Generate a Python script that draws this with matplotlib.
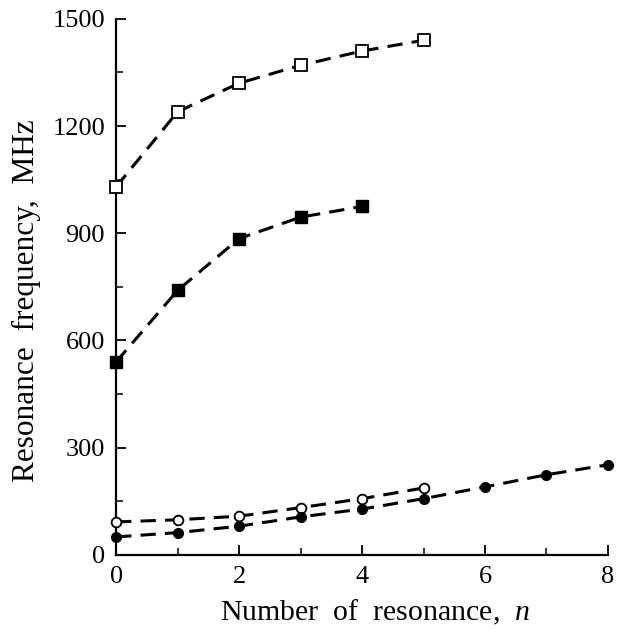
import matplotlib
matplotlib.use("Agg")
import matplotlib.pyplot as plt
from matplotlib.ticker import MultipleLocator

plt.rcParams['font.family'] = ['Liberation Serif', 'DejaVu Serif']
plt.rcParams['mathtext.fontset'] = 'custom'
plt.rcParams['mathtext.rm'] = 'Liberation Serif'
plt.rcParams['mathtext.it'] = 'Liberation Serif:italic'

# Resonance frequencies (MHz) versus resonance number n
n_open_sq = [0, 1, 2, 3, 4, 5]
f_open_sq = [1030, 1240, 1320, 1370, 1410, 1440]

n_fill_sq = [0, 1, 2, 3, 4]
f_fill_sq = [540, 740, 885, 945, 975]

n_open_ci = [0, 1, 2, 3, 4, 5]
f_open_ci = [92, 98, 108, 132, 157, 187]

n_fill_ci = [0, 1, 2, 3, 4, 5, 6, 7, 8]
f_fill_ci = [50, 62, 80, 106, 128, 157, 190, 224, 252]

x_ticks = [0, 2, 4, 6, 8]
y_ticks = [0, 300, 600, 900, 1200, 1500]

fig = plt.figure(figsize=(6.21, 6.29), dpi=100)
ax = fig.add_axes([0.187, 0.118, 0.792, 0.852])

dash = (5, 3)
lw = 2.2
ax.plot(n_open_sq, f_open_sq, color='black', lw=lw, dashes=dash, marker='s',
        ms=8.5, mfc='white', mec='black', mew=1.3, clip_on=False, zorder=3)
ax.plot(n_fill_sq, f_fill_sq, color='black', lw=lw, dashes=dash, marker='s',
        ms=8, mfc='black', mec='black', clip_on=False, zorder=3)
ax.plot(n_open_ci, f_open_ci, color='black', lw=lw, dashes=dash, marker='o',
        ms=7, mfc='white', mec='black', mew=1.3, clip_on=False, zorder=3)
ax.plot(n_fill_ci, f_fill_ci, color='black', lw=lw, dashes=dash, marker='o',
        ms=7, mfc='black', mec='black', clip_on=False, zorder=3)

ax.set_xlim(0, 8)
ax.set_ylim(0, 1500)
ax.set_xticks(x_ticks)
ax.set_yticks(y_ticks)
ax.xaxis.set_minor_locator(MultipleLocator(1))
ax.yaxis.set_minor_locator(MultipleLocator(150))

for s in ['top', 'right']:
    ax.spines[s].set_visible(False)
for s in ['left', 'bottom']:
    ax.spines[s].set_linewidth(1.6)

ax.tick_params(which='major', direction='in', length=7, width=1.3,
               labelsize=19, pad=8)
ax.tick_params(which='minor', direction='in', length=5, width=1.1)

ax.set_xlabel('Number  of  resonance,  $\\mathit{n}$', fontsize=21.5)
ax.set_ylabel('Resonance  frequency,  MHz', fontsize=22.5)
ax.xaxis.set_label_coords(0.526, -0.080)
ax.yaxis.set_label_coords(-0.153, 0.474)

fig.savefig('out.png', dpi=100)
